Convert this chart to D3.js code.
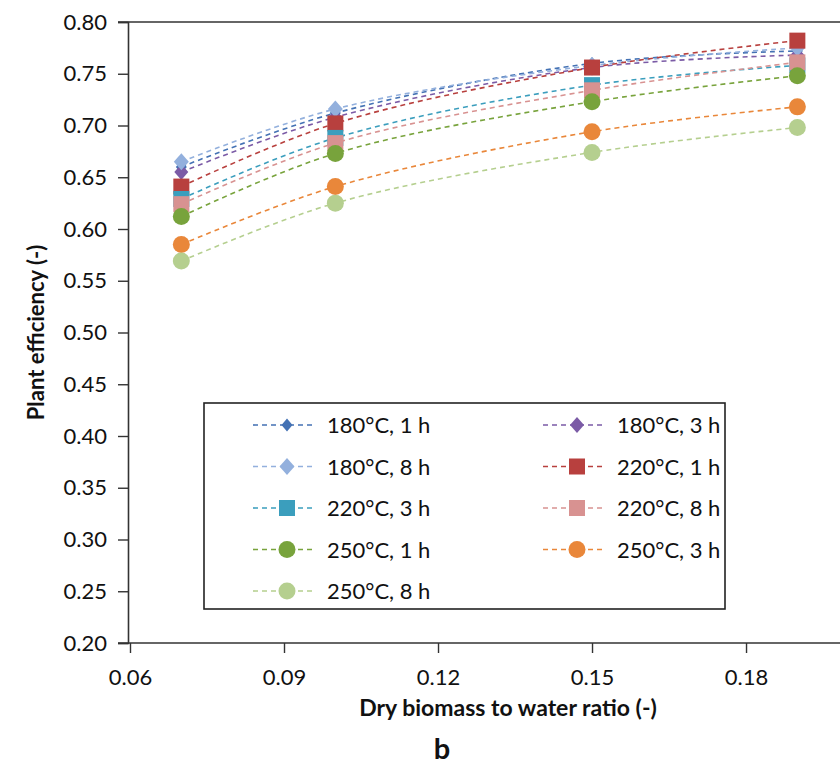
<!DOCTYPE html>
<html>
<head>
<meta charset="utf-8">
<script src="https://cdn.jsdelivr.net/npm/d3@7"></script>
<style>
  body { margin: 0; background: #fff; }
  text { font-family: Lato, "Open Sans", sans-serif; fill: #111; }
</style>
</head>
<body>
<div id="chart"></div>
<script>
// Plant efficiency vs dry biomass to water ratio

const ratios = [0.07, 0.10, 0.15, 0.19];
const xTicks = [0.06, 0.09, 0.12, 0.15, 0.18];
const yTicks = [0.20, 0.25, 0.30, 0.35, 0.40, 0.45, 0.50, 0.55, 0.60, 0.65, 0.70, 0.75, 0.80];

const seriesNames = ["180°C, 1 h", "180°C, 3 h", "180°C, 8 h", "220°C, 1 h", "220°C, 3 h",
                     "220°C, 8 h", "250°C, 1 h", "250°C, 3 h", "250°C, 8 h"];
const eff180_1 = [0.660, 0.712, 0.760, 0.772];
const eff180_3 = [0.655, 0.708, 0.756, 0.768];
const eff180_8 = [0.665, 0.716, 0.758, 0.775];
const eff220_1 = [0.641, 0.702, 0.756, 0.782];
const eff220_3 = [0.629, 0.688, 0.739, 0.758];
const eff220_8 = [0.624, 0.683, 0.734, 0.761];
const eff250_1 = [0.612, 0.673, 0.723, 0.748];
const eff250_3 = [0.585, 0.641, 0.694, 0.718];
const eff250_8 = [0.569, 0.625, 0.674, 0.698];

// marker styles per series
const styles = [
  {color: "#4472b4", shape: "diamond", size: 11},
  {color: "#7b5ba6", shape: "diamond", size: 14},
  {color: "#93b0dd", shape: "diamond", size: 15},
  {color: "#b8403e", shape: "square", size: 16},
  {color: "#3b9ebd", shape: "square", size: 16},
  {color: "#d89291", shape: "square", size: 16},
  {color: "#78a33c", shape: "circle", size: 17},
  {color: "#e9873a", shape: "circle", size: 17},
  {color: "#b5cf8f", shape: "circle", size: 17}
];

const allValues = [eff180_1, eff180_3, eff180_8, eff220_1, eff220_3, eff220_8, eff250_1, eff250_3, eff250_8];
const series = seriesNames.map((name, i) => ({
  name: name,
  style: styles[i],
  points: ratios.map((r, j) => ({x: r, y: allValues[i][j]}))
}));

const W = 840, H = 764;
const margin = {top: 22, left: 128, bottom: 121};

const svg = d3.select("#chart").append("svg")
  .attr("width", W).attr("height", H);

const x = d3.scaleLinear().domain([0.06, 0.20]).range([margin.left + 2, margin.left + 2 + 718.7]);
const y = d3.scaleLinear().domain([0.20, 0.80]).range([H - margin.bottom, margin.top]);

// top frame line
svg.append("line")
  .attr("x1", margin.left - 10).attr("x2", W)
  .attr("y1", y(0.80)).attr("y2", y(0.80))
  .attr("stroke", "#333").attr("stroke-width", 1.6);

// Y axis
const yAxis = svg.append("g")
  .attr("transform", `translate(${margin.left},0)`)
  .call(d3.axisLeft(y).tickValues(yTicks).tickFormat(d3.format(".2f")).tickSize(10).tickPadding(11));
yAxis.select(".domain").attr("stroke", "#333").attr("stroke-width", 1.6);
yAxis.selectAll(".tick line").attr("stroke", "#333").attr("stroke-width", 1.4);
yAxis.selectAll("text").style("font-size", "22px").attr("fill", "#222");

// X axis
const xAxis = svg.append("g")
  .attr("transform", `translate(0,${y(0.20)})`)
  .call(d3.axisBottom(x).tickValues(xTicks).tickFormat(d3.format(".2f")).tickSize(10).tickPadding(16));
xAxis.select(".domain").attr("stroke", "#333").attr("stroke-width", 1.6)
  .attr("d", `M${margin.left - 10},0H${W + 10}`);
xAxis.selectAll(".tick line").attr("stroke", "#333").attr("stroke-width", 1.4);
xAxis.selectAll("text").style("font-size", "22px").attr("fill", "#222");

// axis labels
svg.append("text")
  .attr("transform", `translate(44,${(y(0.20) + y(0.80)) / 2}) rotate(-90)`)
  .attr("text-anchor", "middle")
  .style("font-size", "22px").style("font-weight", "bold")
  .text("Plant efficiency (-)");

svg.append("text")
  .attr("x", 508).attr("y", 716)
  .attr("text-anchor", "middle")
  .style("font-size", "23px").style("font-weight", "bold")
  .text("Dry biomass to water ratio (-)");

svg.append("text")
  .attr("x", 442).attr("y", 759)
  .attr("text-anchor", "middle")
  .style("font-size", "29px").style("font-weight", "bold")
  .text("b");

// marker drawing helper
function drawMarker(g, st, cx, cy) {
  const s = st.size;
  if (st.shape === "circle") {
    g.append("circle").attr("cx", cx).attr("cy", cy).attr("r", s / 2).attr("fill", st.color);
  } else if (st.shape === "square") {
    g.append("rect").attr("x", cx - s / 2).attr("y", cy - s / 2)
      .attr("width", s).attr("height", s).attr("fill", st.color);
  } else {
    const h = s / 2;
    g.append("path")
      .attr("d", `M${cx},${cy - h - 1}L${cx + h},${cy}L${cx},${cy + h + 1}L${cx - h},${cy}Z`)
      .attr("fill", st.color);
  }
}

const line = d3.line()
  .x(d => x(d.x)).y(d => y(d.y))
  .curve(d3.curveCatmullRom.alpha(0.5));

const plot = svg.append("g");
series.forEach(s => {
  const g = plot.append("g");
  g.append("path")
    .attr("d", line(s.points))
    .attr("fill", "none")
    .attr("stroke", s.style.color)
    .attr("stroke-width", 1.6)
    .attr("stroke-dasharray", "5,4");
  s.points.forEach(p => drawMarker(g, s.style, x(p.x), y(p.y)));
});

// Legend
const legend = svg.append("g");
legend.append("rect")
  .attr("x", 204).attr("y", 403).attr("width", 521).attr("height", 206)
  .attr("fill", "#fff").attr("stroke", "#222").attr("stroke-width", 1.6);

series.forEach((s, i) => {
  const col = i % 2, row = Math.floor(i / 2);
  const lx = col === 0 ? 253 : 543;
  const ly = 425 + row * 41.5;
  legend.append("line")
    .attr("x1", lx).attr("x2", lx + 62).attr("y1", ly).attr("y2", ly)
    .attr("stroke", s.style.color).attr("stroke-width", 1.6)
    .attr("stroke-dasharray", "5,4");
  drawMarker(legend, s.style, lx + 34, ly);
  legend.append("text")
    .attr("x", lx + 74).attr("y", ly + 8)
    .style("font-size", "22px").attr("fill", "#222")
    .text(s.name);
});
</script>
</body>
</html>
